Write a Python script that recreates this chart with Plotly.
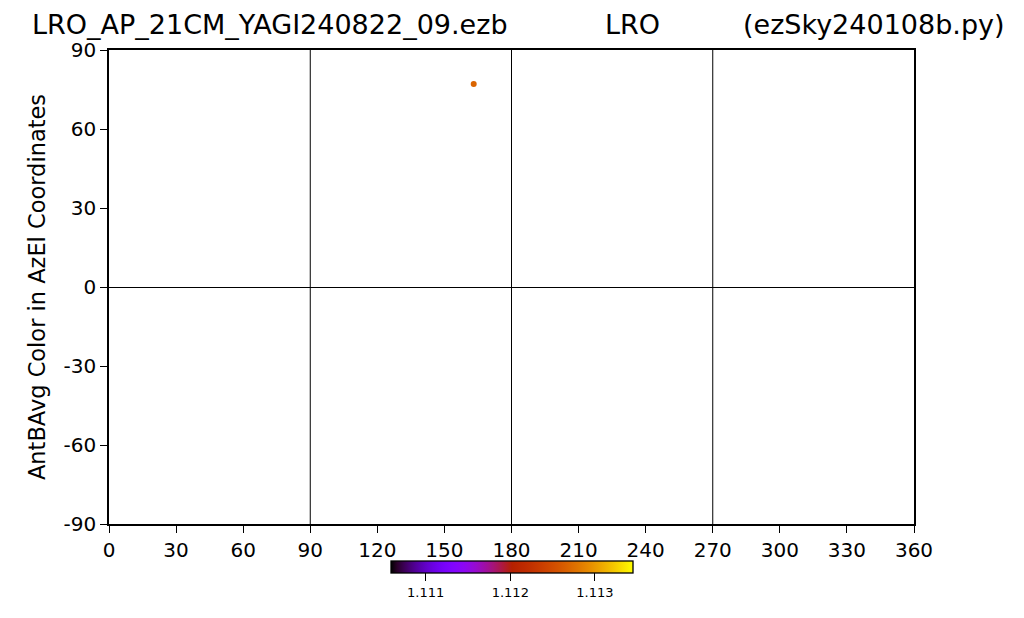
import numpy as np
import plotly.graph_objects as go

# Data
azimuth = [163.1]
elevation = [77.1]
ant_b_avg = [1.11268]
color_min = 1.11059
color_max = 1.11345
x_ticks = list(range(0, 361, 30))
y_ticks = list(range(-90, 91, 30))
y_ticktext = [str(v) for v in y_ticks]
grid_az = [90, 180, 270]
cbar_ticks = [1.111, 1.112, 1.113]
cbar_ticktext = ["1.111", "1.112", "1.113"]
title_parts = ["LRO_AP_21CM_YAGI240822_09.ezb", "LRO", "(ezSky240108b.py)"]

# matplotlib 'gnuplot' colormap
cs = []
for t in np.linspace(0, 1, 41):
    r = np.sqrt(t)
    g = t ** 3
    b = max(0.0, np.sin(2 * np.pi * t))
    cs.append([float(t), f"rgb({int(round(r*255))},{int(round(g*255))},{int(round(b*255))})"])

FONT = "DejaVu Sans"

fig = go.Figure()
fig.add_trace(go.Scatter(
    x=azimuth, y=elevation, mode="markers",
    marker=dict(size=6, color=ant_b_avg, colorscale=cs, cmin=color_min, cmax=color_max,
                showscale=True,
                colorbar=dict(orientation="h", x=0.5006, xanchor="center", y=-0.078, yanchor="top",
                              xpad=0, ypad=0,
                              lenmode="pixels", len=242, thicknessmode="pixels", thickness=12,
                              outlinecolor="black", outlinewidth=1.3,
                              tickvals=cbar_ticks, ticktext=cbar_ticktext,
                              ticks="outside", ticklen=8, tickcolor="black",
                              tickfont=dict(family=FONT, size=13, color="black"))),
    showlegend=False,
))

for a in grid_az:
    fig.add_vline(x=a, line=dict(color="black", width=1))

fig.update_xaxes(range=[0, 360], tickvals=x_ticks, ticks="outside", ticklen=7, tickcolor="black",
                 tickwidth=1.3,
                 showgrid=False, zeroline=False, showline=True, linecolor="black", linewidth=1.5,
                 mirror=True, tickfont=dict(family=FONT, size=20, color="black"))
fig.update_yaxes(range=[-90, 90], tickvals=y_ticks, ticktext=y_ticktext, ticks="outside", ticklen=7,
                 tickcolor="black", tickwidth=1.3,
                 showgrid=False, zeroline=True, zerolinecolor="black", zerolinewidth=1,
                 showline=True, linecolor="black", linewidth=1.5, mirror=True,
                 tickfont=dict(family=FONT, size=20, color="black"),
                 title=dict(text="AntBAvg Color in AzEl Coordinates", standoff=12,
                            font=dict(family=FONT, size=22.5, color="black")))

tfont = dict(family=FONT, size=27, color="black")
ty = 1.0535
fig.add_annotation(text=title_parts[0], xref="paper", yref="paper", x=0.4981, y=ty,
                   xanchor="right", yanchor="middle", showarrow=False, font=tfont)
fig.add_annotation(text=title_parts[1], xref="paper", yref="paper", x=0.6503, y=ty,
                   xanchor="center", yanchor="middle", showarrow=False, font=tfont)
fig.add_annotation(text=title_parts[2], xref="paper", yref="paper", x=1.1155, y=ty,
                   xanchor="right", yanchor="middle", showarrow=False, font=tfont)

fig.update_layout(
    width=1024, height=618,
    margin=dict(l=109, r=110, t=50, b=94, autoexpand=False),
    paper_bgcolor="white", plot_bgcolor="white",
)
fig.write_html("out.html", config={"displayModeBar": False},
               post_script="document.body.style.margin='0px';")
